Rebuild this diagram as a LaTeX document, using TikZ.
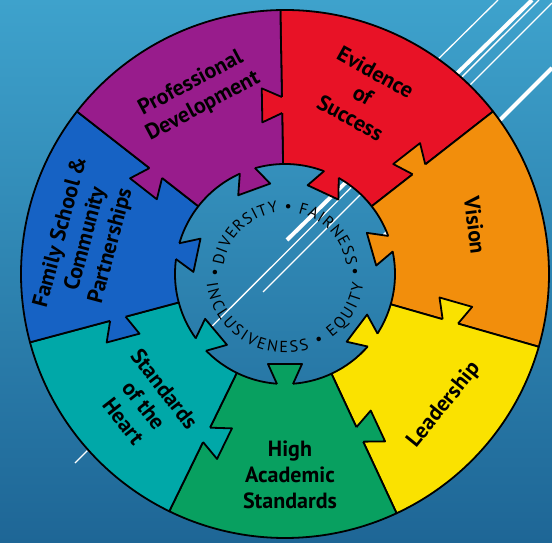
\documentclass[tikz,border=0pt]{standalone}
\usepackage{fontspec}
\setmainfont{PT Sans}
\usetikzlibrary{
    decorations.text
}

\definecolor{segpurple}{RGB}{152, 28, 140}
\definecolor{segred}{RGB}{232, 18, 38}
\definecolor{segorange}{RGB}{242, 142, 12}
\definecolor{segyellow}{RGB}{250, 226, 0}
\definecolor{seggreen}{RGB}{8, 160, 96}
\definecolor{segteal}{RGB}{0, 168, 168}
\definecolor{segblue}{RGB}{22, 98, 196}
\definecolor{bgtop}{RGB}{62, 162, 204}
\definecolor{bgbottom}{RGB}{30, 102, 150}

\newcommand{\ringfont}{\fontsize{16}{16}\selectfont}

\tikzset {
    segment/.style = {draw = black, line width = 1.8pt, line join = round},
    label text/.style = {
        font = \bfseries\fontsize{22}{26}\selectfont,
        align = center,
        inner sep = 0pt
    },
    thin stripe/.style = {white, line width = 1.3pt},
    thick stripe/.style = {white, line width = 4pt},
    %
    pics/tab/.style = {
        code = {
            \fill [#1] (-3, -8) -- (0, -8) -- (20, -17) -- (20, 17) -- (0, 8) -- (-3, 8) -- cycle;
            \draw [line width = 1.8pt, line join = round] (0, -8) -- (20, -17) -- (20, 17) -- (0, 8);
        }
    }
}

\begin{document}
\begin{tikzpicture}[x = 1pt, y = 1pt]
    \useasboundingbox (-285, -269) rectangle (267, 274);
    \shade [top color = bgtop, bottom color = bgbottom] (-285, -269) rectangle (267, 274);

    % slide stripes, behind the wheel
    \draw [thin stripe] (-210, -189) -- (254, 274);
    \draw [thin stripe] (-22, -18) -- (267, 271);
    \draw [thin stripe] (135, 197) -- (213, 274);
    \draw [thick stripe] (2, 34) -- (247, 274);
    \draw [thick stripe] (88, 27) -- (267, 206);

    % wheel: from/to angle, colour, inner tab angle, side tab radius
    \foreach \a/\b/\c in {38/91/segred, -16/38/segorange, -65/-16/segyellow,
                          -116/-65/seggreen, 195/244/segteal, 142/195/segblue,
                          91/142/segpurple}
        \filldraw [segment, fill = \c] (\a:110) arc [start angle = \a, end angle = \b, radius = 110]
            -- (\b:264) arc [start angle = \b, end angle = \a, radius = 264] -- cycle;

    \foreach \b/\c/\m/\r in {91/segred/65/169, 38/segorange/16/170, -16/segyellow/-37/172,
                             -65/seggreen/-90/177, 244/segteal/220/179, 195/segblue/168/173,
                             142/segpurple/110/164} {
        \pic [rotate = \m + 180] at (\m:110) {tab = \c};
        \pic [rotate = \b + 90] at (\b:\r) {tab = \c};
    }

    \node (prof) [label text, rotate = 28] at (-88, 179) {Professional\\Development};
    \node (evid) [label text, rotate = -29] at (78, 179) {Evidence\\of\\Success};
    \node (vision) [label text, rotate = -83] at (190, 49) {Vision};
    \node (lead) [label text, rotate = 51] at (159, -131) {Leadership};
    \node (high) [label text] at (5, -201) {High\\Academic\\Standards};
    \node (heart) [label text, rotate = -52] at (-141, -131) {Standards\\of the\\Heart};
    \node (family) [label text, rotate = 75] at (-199, 35) {Family School \&\\Community\\Partnerships};

    % ring text
    \path [decorate, decoration = {text along path, text align = fit to path,
        text = {|\ringfont|DIVERSITY • FAIRNESS}}]
        (172:62) arc [start angle = 172, end angle = 8, radius = 62];
    \path [decorate, decoration = {text along path, text align = fit to path,
        text = {|\ringfont|INCLUSIVENESS • EQUITY}}]
        (187:79) arc [start angle = 187, end angle = 353, radius = 79];
    \node (dotl) [inner sep = 0pt] at (180:70) {\ringfont •};
    \node (dotr) [inner sep = 0pt] at (1:70) {\ringfont •};
\end{tikzpicture}
\end{document}
